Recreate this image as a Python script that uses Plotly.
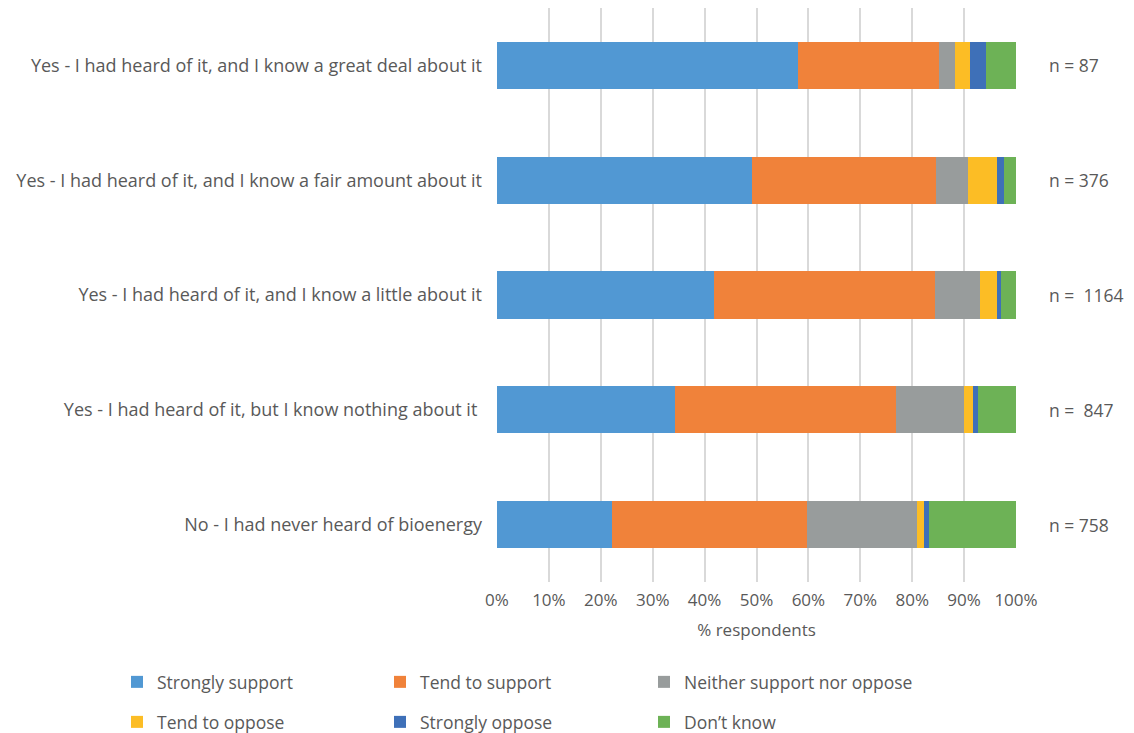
import plotly.graph_objects as go

categories = [
    "Yes - I had heard of it, and I know a great deal about it",
    "Yes - I had heard of it, and I know a fair amount about it",
    "Yes - I had heard of it, and I know a little about it",
    "Yes - I had heard of it, but I know nothing about it ",
    "No - I had never heard of bioenergy",
]
n_labels = ["n = 87", "n = 376", "n =\u00a0\u00a01164", "n =\u00a0\u00a0847", "n = 758"]

strongly_support = [57.9, 49.1, 41.9, 34.2, 22.2]
tend_to_support = [27.3, 35.5, 42.4, 42.7, 37.6]
neither = [3.0, 6.2, 8.8, 13.1, 21.2]
tend_to_oppose = [2.9, 5.6, 3.2, 1.8, 1.3]
strongly_oppose = [3.2, 1.3, 0.9, 0.9, 1.0]
dont_know = [5.7, 2.3, 2.8, 7.3, 16.7]

series_names = ["Strongly support", "Tend to support", "Neither support nor oppose",
                "Tend to oppose", "Strongly oppose", "Don\u2019t know"]
series_values = [strongly_support, tend_to_support, neither,
                 tend_to_oppose, strongly_oppose, dont_know]
series_colors = ["#5198d3", "#f0823a", "#989c9c", "#fcbd25", "#3e70b8", "#6db256"]

FONT = "Open Sans, DejaVu Sans, sans-serif"
TXT = "#595959"

# legend grid: 3 columns x 2 rows (paper coords)
leg_cols = [-0.7322, -0.2254, 0.2832]
leg_rows = [-0.1742, -0.2439]

fig = go.Figure()
legend_layouts = {}
for i, (name, vals, col) in enumerate(zip(series_names, series_values, series_colors)):
    lg = "legend" if i == 0 else f"legend{i + 1}"
    fig.add_trace(go.Bar(
        y=categories, x=vals, name=name, orientation="h",
        marker=dict(color=col, line=dict(width=0)), width=0.41, legend=lg,
    ))
    legend_layouts[lg] = dict(
        x=leg_cols[i % 3], y=leg_rows[i // 3], xanchor="left", yanchor="middle",
        orientation="h", font=dict(family=FONT, size=17.5, color=TXT),
        bgcolor="rgba(0,0,0,0)",
    )

for cat, lab in zip(categories, n_labels):
    fig.add_annotation(x=1.06, xref="paper", y=cat, yref="y", text=lab,
                       showarrow=False, xanchor="left",
                       font=dict(family=FONT, size=17.5, color=TXT))

fig.update_layout(
    width=1126, height=725,
    margin=dict(l=489, r=118, t=0, b=151, autoexpand=False),
    barmode="stack",
    plot_bgcolor="white", paper_bgcolor="white",
    font=dict(family=FONT, size=17, color=TXT),
    xaxis=dict(range=[0, 100], dtick=10, ticksuffix="%", showgrid=True,
               gridcolor="#d9d9d9", gridwidth=2, zeroline=False,
               showline=False, ticks="", ticklabelstandoff=6,
               tickfont=dict(size=17, color=TXT),
               title=dict(text="% respondents", font=dict(size=17, color=TXT), standoff=14)),
    yaxis=dict(autorange="reversed", showgrid=False, ticks="", showline=False,
               ticklabelstandoff=14, tickfont=dict(size=18, color=TXT)),
    showlegend=True,
    **legend_layouts,
)

fig.write_html("out.html")
